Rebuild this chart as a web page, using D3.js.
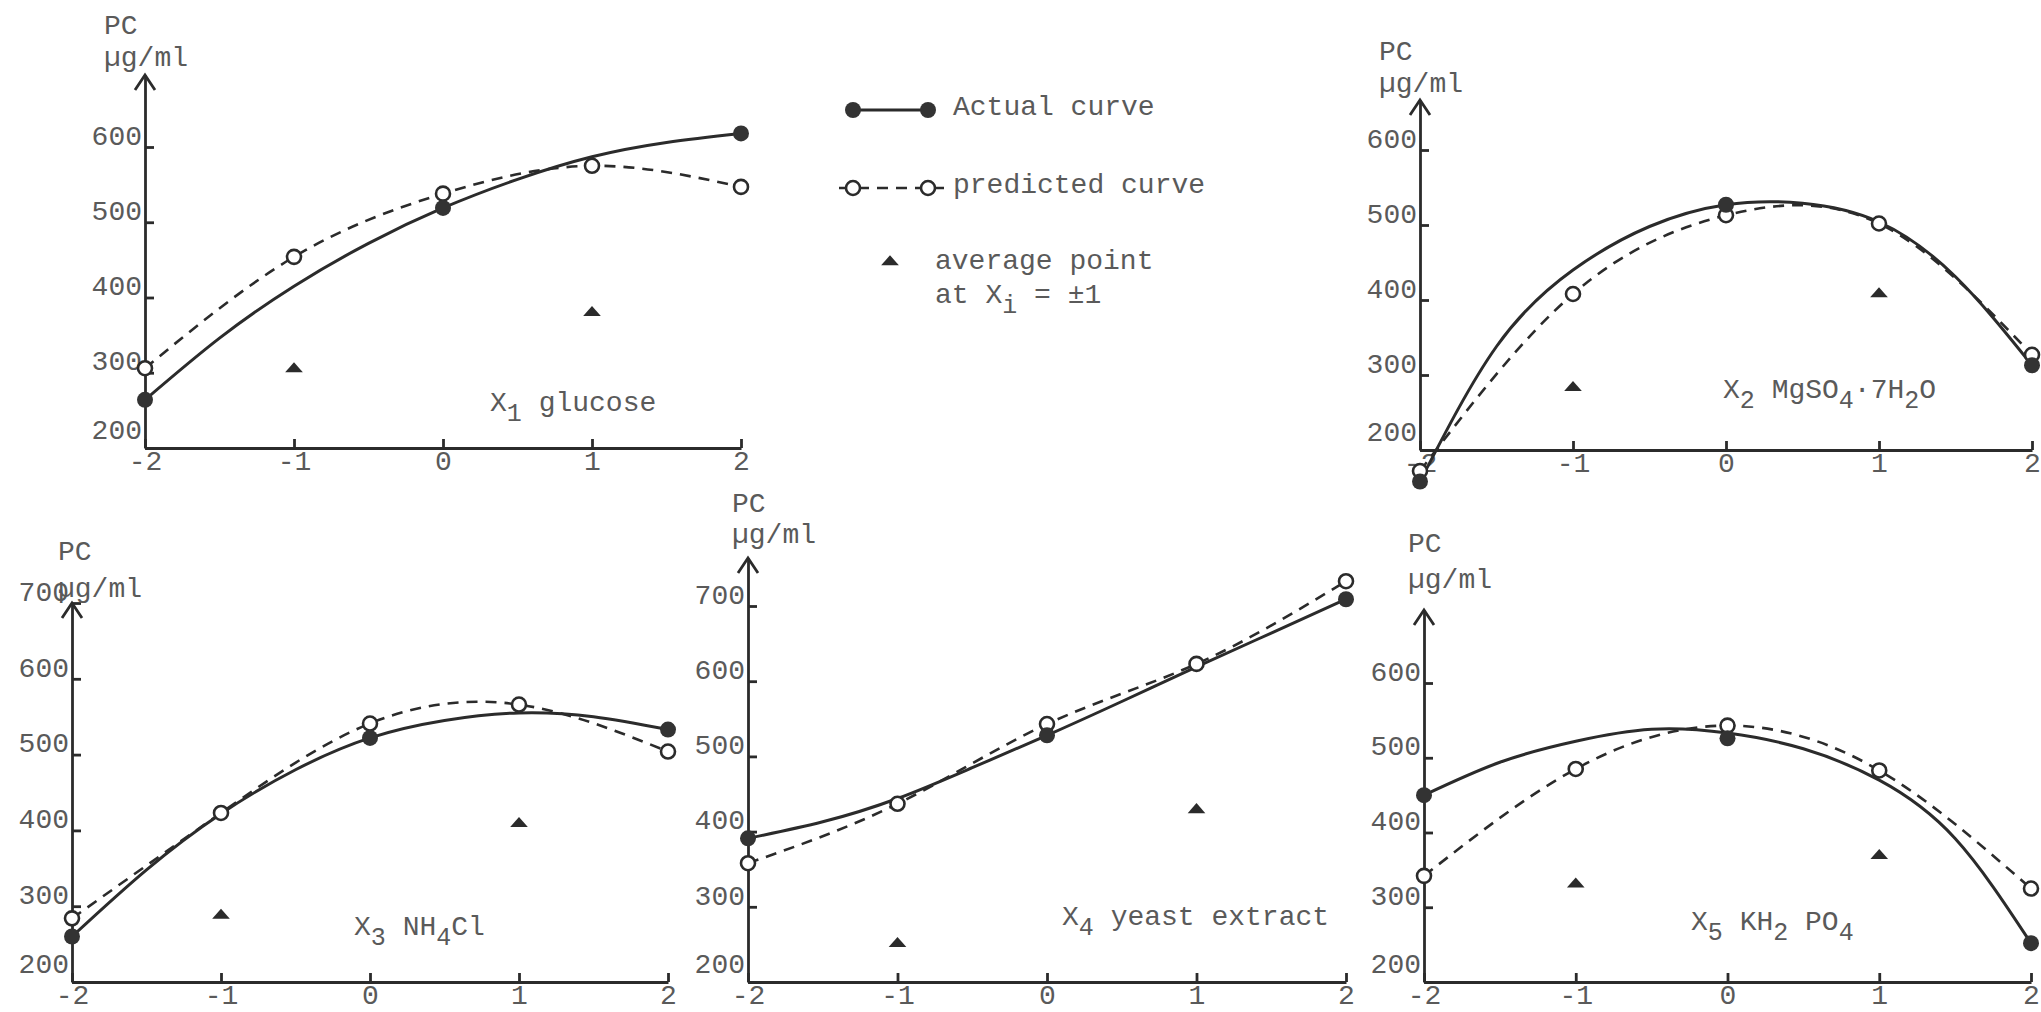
<!DOCTYPE html>
<html>
<head>
<meta charset="utf-8">
<title>PC response curves</title>
<script src="https://d3js.org/d3.v7.min.js"></script>
<style>
  body { margin: 0; background: #fff; }
  svg text { font-family: 'Liberation Mono', 'Courier New', monospace; font-size: 28px; fill: #5a5a5a; }
  .axis path, .axis line { stroke: #2b2b2b; stroke-width: 2.8; fill: none; }
  .arrow { stroke: #2b2b2b; stroke-width: 2.8; fill: none; }
  .actual { fill: none; stroke: #2b2b2b; stroke-width: 3; }
  .predicted { fill: none; stroke: #2b2b2b; stroke-width: 2.6; stroke-dasharray: 11 8; }
</style>
</head>
<body>
<script>
// coded factor levels
const levels = [-2, -1, 0, 1, 2];
const actualLevels = [-2, 0, 2];
const traceLevels = [-2, -1.5, -1, -0.5, 0, 0.5, 1, 1.5, 2];
const avgLevels = [-1, 1];

// PC (ug/ml)
// X1 glucose
const glucoseActual = [264, 519, 618];
const glucoseTrace = [264, 346, 415, 472, 519, 557, 587, 606, 618];
const glucosePredicted = [306, 454, 538, 575, 547];
const glucoseAverage = [305, 380];
// X2 MgSO4.7H2O
const mgso4Actual = [158, 527, 313];
const mgso4Trace = [158, 338, 440, 498, 527, 529, 504, 431, 313];
const mgso4Predicted = [172, 408, 513, 502, 327];
const mgso4Average = [283, 408];
// X3 NH4Cl
const nh4clActual = [260, 522, 533];
const nh4clTrace = [260, 348, 422, 480, 522, 545, 555, 550, 533];
const nh4clPredicted = [284, 423, 541, 566, 504];
const nh4clAverage = [288, 409];
// X4 yeast extract
const yeastActual = [391, 528, 709];
const yeastTrace = [391, 413, 444, 485, 528, 573, 619, 664, 709];
const yeastPredicted = [358, 437, 543, 623, 733];
const yeastAverage = [251, 429];
// X5 KH2PO4
const kh2po4Actual = [450, 526, 252];
const kh2po4Trace = [450, 494, 522, 538, 533, 512, 470, 392, 252];
const kh2po4Predicted = [342, 485, 543, 483, 325];
const kh2po4Average = [331, 369];

// y tick labels
const ticksTo600 = [200, 300, 400, 500, 600];
const ticksTo700 = [200, 300, 400, 500, 600, 700];

// factor labels, pieces marked 1 are subscripts
const glucoseLabel = [["X"], ["1", 1], [" glucose"]];
const mgso4Label = [["X"], ["2", 1], [" MgSO"], ["4", 1], ["·7H"], ["2", 1], ["O"]];
const nh4clLabel = [["X"], ["3", 1], [" NH"], ["4", 1], ["Cl"]];
const yeastLabel = [["X"], ["4", 1], [" yeast extract"]];
const kh2po4Label = [["X"], ["5", 1], [" KH"], ["2", 1], [" PO"], ["4", 1]];

const panels = [
  { label: glucoseLabel, actual: glucoseActual, trace: glucoseTrace, predicted: glucosePredicted, average: glucoseAverage, ticks: ticksTo600,
    box: { xL: 145, xR: 741, y200: 448, refV: 600, refY: 147, top: 75, lx: 490, ly: 411, ux: 104, pcY: 34, ugY: 66 } },
  { label: mgso4Label, actual: mgso4Actual, trace: mgso4Trace, predicted: mgso4Predicted, average: mgso4Average, ticks: ticksTo600,
    box: { xL: 1420, xR: 2032, y200: 450, refV: 600, refY: 150, top: 100, lx: 1723, ly: 398, ux: 1379, pcY: 60, ugY: 92 } },
  { label: nh4clLabel, actual: nh4clActual, trace: nh4clTrace, predicted: nh4clPredicted, average: nh4clAverage, ticks: ticksTo700,
    box: { xL: 72, xR: 668, y200: 982, refV: 700, refY: 603, top: 603, lx: 354, ly: 935, ux: 58, pcY: 560, ugY: 597 } },
  { label: yeastLabel, actual: yeastActual, trace: yeastTrace, predicted: yeastPredicted, average: yeastAverage, ticks: ticksTo700,
    box: { xL: 748, xR: 1346, y200: 982, refV: 700, refY: 606, top: 558, lx: 1062, ly: 925, ux: 732, pcY: 512, ugY: 543 } },
  { label: kh2po4Label, actual: kh2po4Actual, trace: kh2po4Trace, predicted: kh2po4Predicted, average: kh2po4Average, ticks: ticksTo600,
    box: { xL: 1424, xR: 2031, y200: 982, refV: 600, refY: 683, top: 610, lx: 1691, ly: 930, ux: 1408, pcY: 552, ugY: 588 } }
];

const W = 2041, H = 1012;
const svg = d3.select("body").append("svg").attr("width", W).attr("height", H);

// writes text pieces, lowering the subscript ones
function richText(sel, pieces) {
  let low = false;
  pieces.forEach(p => {
    const sub = !!p[1];
    const t = sel.append("tspan").text(p[0]);
    if (sub && !low) t.attr("dy", 10).style("font-size", "25px");
    else if (sub) t.style("font-size", "25px");
    else if (low) t.attr("dy", -10);
    low = sub;
  });
}

const tri = d3.symbol().type(d3.symbolTriangle).size(80);

panels.forEach(p => {
  const b = p.box;
  const x = d3.scaleLinear().domain([-2, 2]).range([b.xL, b.xR]);
  const y = d3.scaleLinear().domain([200, b.refV]).range([b.y200, b.refY]);
  const g = svg.append("g");

  // x axis, ticks point up into the plot
  g.append("g").attr("class", "axis")
    .attr("transform", `translate(0,${y(200)})`)
    .call(d3.axisBottom(x).tickValues(levels).tickFormat(d => String(d))
      .tickSizeInner(-9).tickSizeOuter(0).tickPadding(2))
    .call(a => a.selectAll("text").attr("fill", null));

  // y axis runs up to the arrow; typed labels sit a little above their ticks
  const yA = y.copy().domain([200, y.invert(b.top)]).range([y(200), b.top]);
  g.append("g").attr("class", "axis")
    .attr("transform", `translate(${x(-2)},0)`)
    .call(d3.axisLeft(yA).tickValues(p.ticks).tickFormat(d => String(d))
      .tickSizeInner(-9).tickSizeOuter(0).tickPadding(3))
    .call(a => a.selectAll("text").attr("fill", null)
      .attr("dy", d => d === 200 ? "-0.35em" : "-0.1em"));

  g.append("path").attr("class", "arrow")
    .attr("d", `M${x(-2) - 10},${b.top + 15}L${x(-2)},${b.top}L${x(-2) + 10},${b.top + 15}`);

  g.append("text").attr("x", b.ux).attr("y", b.pcY).text("PC");
  g.append("text").attr("x", b.ux).attr("y", b.ugY).text("µg/ml");

  // curves
  const line = d3.line().x(d => x(d[0])).y(d => y(d[1])).curve(d3.curveNatural);
  g.append("path").attr("class", "predicted")
    .attr("d", line(levels.map((l, i) => [l, p.predicted[i]])));
  g.append("path").attr("class", "actual")
    .attr("d", line(traceLevels.map((l, i) => [l, p.trace[i]])));

  // markers
  g.selectAll(".pred").data(levels.map((l, i) => [l, p.predicted[i]])).join("circle")
    .attr("cx", d => x(d[0])).attr("cy", d => y(d[1])).attr("r", 7)
    .attr("fill", "#fff").attr("stroke", "#2b2b2b").attr("stroke-width", 2.6);
  g.selectAll(".act").data(actualLevels.map((l, i) => [l, p.actual[i]])).join("circle")
    .attr("cx", d => x(d[0])).attr("cy", d => y(d[1])).attr("r", 8).attr("fill", "#333");
  g.selectAll(".avg").data(avgLevels.map((l, i) => [l, p.average[i]])).join("path")
    .attr("d", tri).attr("fill", "#2b2b2b")
    .attr("transform", d => `translate(${x(d[0])},${y(d[1])}) scale(1.3,0.85)`);

  richText(g.append("text").attr("x", b.lx).attr("y", b.ly), p.label);
});

// legend
const lg = svg.append("g");
const leg = { x1: 853, x2: 928, tx: 953, r1: 110, r2: 188, r3: 262, tx3: 935, r4: 303 };
lg.append("line").attr("x1", leg.x1).attr("x2", leg.x2).attr("y1", leg.r1).attr("y2", leg.r1)
  .attr("stroke", "#2b2b2b").attr("stroke-width", 3);
lg.selectAll(".la").data([leg.x1, leg.x2]).join("circle")
  .attr("cx", d => d).attr("cy", leg.r1).attr("r", 8).attr("fill", "#333");
lg.append("text").attr("x", leg.tx).attr("y", leg.r1 + 5).text("Actual curve");

lg.append("line").attr("x1", leg.x1 - 14).attr("x2", leg.x2 + 16).attr("y1", leg.r2).attr("y2", leg.r2)
  .attr("class", "predicted").attr("stroke-dasharray", "7 6");
lg.selectAll(".lp").data([leg.x1, leg.x2]).join("circle")
  .attr("cx", d => d).attr("cy", leg.r2).attr("r", 7)
  .attr("fill", "#fff").attr("stroke", "#2b2b2b").attr("stroke-width", 2.6);
lg.append("text").attr("x", leg.tx).attr("y", leg.r2 + 5).text("predicted curve");

lg.append("path").attr("d", tri).attr("fill", "#2b2b2b")
  .attr("transform", `translate(890,${leg.r3}) scale(1.3,0.85)`);
lg.append("text").attr("x", leg.tx3).attr("y", leg.r3 + 7).text("average point");
richText(lg.append("text").attr("x", leg.tx3).attr("y", leg.r4), [["at X"], ["i", 1], [" = ±1"]]);
</script>
</body>
</html>
